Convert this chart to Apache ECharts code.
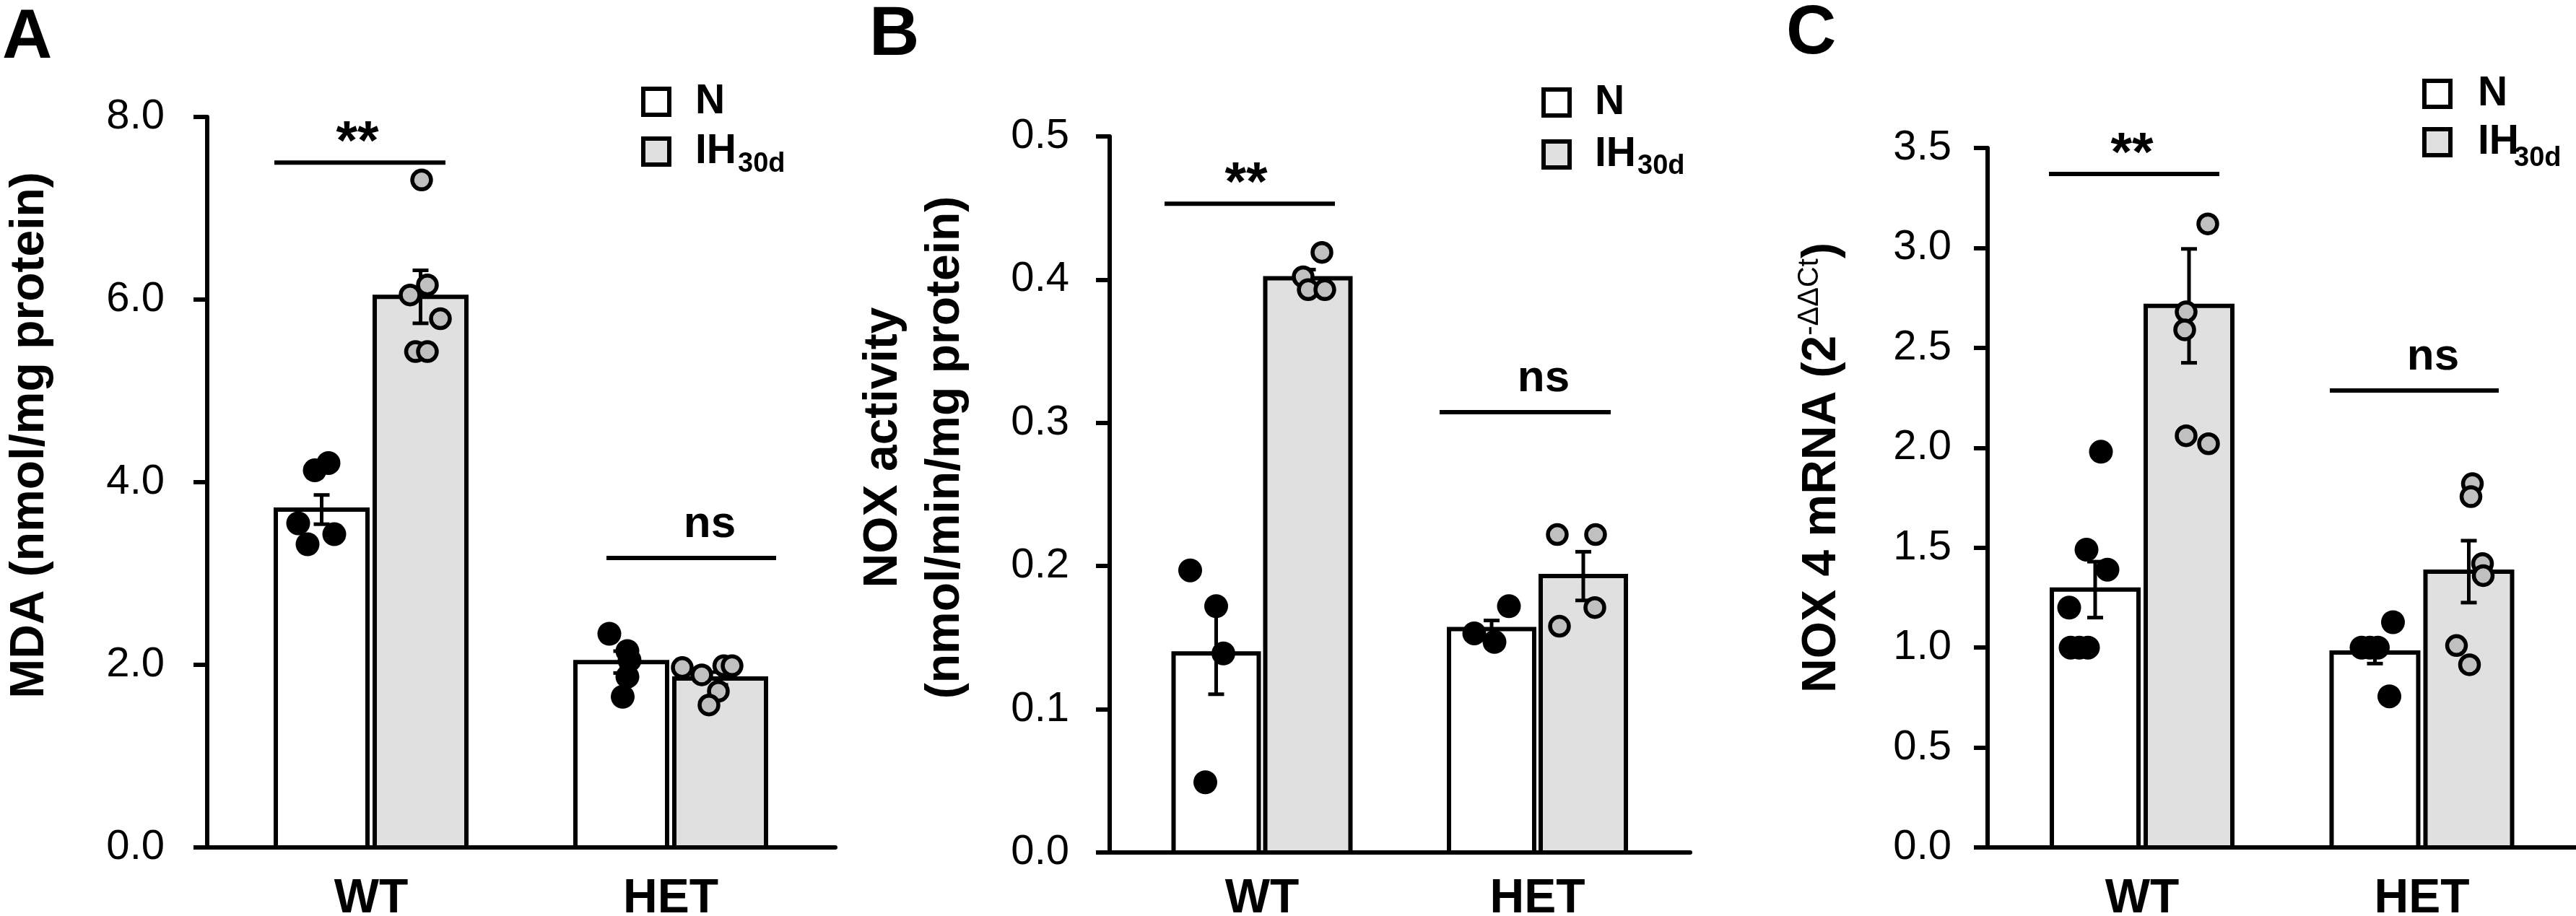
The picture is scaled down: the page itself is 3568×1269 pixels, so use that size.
<!DOCTYPE html>
<html><head><meta charset="utf-8">
<script src="https://cdn.jsdelivr.net/npm/echarts@6/dist/echarts.min.js"></script>
<style>html,body{margin:0;padding:0;background:#fff}#c{width:3568px;height:1269px}</style>
</head><body><div id="c"></div>
<script>
const FONT = '"Liberation Sans", Arial, Helvetica, sans-serif';
const categories = ['WT', 'HET'];
const treatments = ['N', 'IH30d'];

// ---- Panel A: MDA (nmol/mg protein)
const mdaTicks = [0, 2, 4, 6, 8];
const mdaMeanN = [3.70, 2.03];
const mdaSemN = [0.16, 0.12];
const mdaMeanIH = [6.03, 1.85];
const mdaSemIH = [0.29, 0.07];
const mdaPointsN = [[4.13, 4.21, 3.55, 3.43, 3.32], [2.34, 2.15, 2.05, 1.87, 1.65]];
const mdaPointsIH = [[7.31, 6.05, 6.16, 5.79, 5.43, 5.43], [1.97, 1.89, 1.99, 1.99, 1.71, 1.56]];
const mdaSigLabels = ['**', 'ns'];
const mdaSigLevels = [7.5, 3.17];

// ---- Panel B: NOX activity
const noxTicks = [0, 0.1, 0.2, 0.3, 0.4, 0.5];
const noxMeanN = [0.139, 0.156];
const noxSemN = [0.0285, 0.006];
const noxMeanIH = [0.401, 0.193];
const noxSemIH = [0.006, 0.017];
const noxPointsN = [[0.197, 0.172, 0.139, 0.049], [0.153, 0.172, 0.147]];
const noxPointsIH = [[0.419, 0.402, 0.393, 0.393], [0.222, 0.222, 0.171, 0.158]];
const noxSigLabels = ['**', 'ns'];
const noxSigLevels = [0.453, 0.3075];

// ---- Panel C: NOX 4 mRNA
const mrnaTicks = [0, 0.5, 1.0, 1.5, 2.0, 2.5, 3.0, 3.5];
const mrnaMeanN = [1.29, 0.975];
const mrnaSemN = [0.14, 0.055];
const mrnaMeanIH = [2.71, 1.38];
const mrnaSemIH = [0.285, 0.155];
const mrnaPointsN = [[1.98, 1.49, 1.39, 1.20, 1.00, 1.00, 1.00], [1.127, 1.0, 1.0, 1.0, 0.756]];
const mrnaPointsIH = [[3.12, 2.68, 2.59, 2.06, 2.02], [1.82, 1.755, 1.42, 1.36, 1.01, 0.914]];
const mrnaSigLabels = ['**', 'ns'];
const mrnaSigLevels = [3.37, 2.286];

// ---- layout (pixels)
const layouts = [
  {left: 287, top: 162, bottom: 1174, right: 1157, centers: [514, 929], off: 68.5, bw: 127,
   jitN: [[-9.5, 9.5, -32.5, 17.5, -19.5], [-16.5, 8.5, 11.5, 8.5, 2]],
   jitIH: [[1.5, -14.5, 9.5, 27.5, -7, 9.5], [-52.5, -25.5, 5, 16.5, -2.5, -15.5]],
   sigX: [[380, 617, 495], [840, 1075, 983]], ylMargin: 59, catMargin: 39,
   leg: {bx: 891, by: 123, pitch: 69, tx: 963, sx: 1022, sy: 228},
   letter: {t: 'A', x: 3, y: 6}},
  {left: 1537, top: 189, bottom: 1181, right: 2341, centers: [1748, 2129.5], off: 63.5, bw: 118,
   jitN: [[-36, 0, 10, -15], [-24, 24, 4]],
   jitIH: [[19.5, -6.5, 0.5, 23.5], [-36, 17, 16, -33]],
   sigX: [[1613, 1849, 1726], [1994, 2231, 2138]], ylMargin: 56, catMargin: 32,
   leg: {bx: 2138, by: 124, pitch: 72, tx: 2209, sx: 2268, sy: 231},
   letter: {t: 'B', x: 1204, y: 2}},
  {left: 2753, top: 205, bottom: 1174, right: 3568, centers: [2967, 3354.5], off: 65, bw: 120,
   jitN: [[8, -12, 17, -36, -34, -22, -10], [25, -18.5, -7, 4, 20]],
   jitIH: [[26, -4, -6, -4, 27], [5, 3, 19, 20, -17, 1]],
   sigX: [[2838, 3074, 2953], [3227, 3461, 3370]], ylMargin: 50, catMargin: 39,
   leg: {bx: 3358, by: 112, pitch: 67, tx: 3432, sx: 3482, sy: 220},
   letter: {t: 'C', x: 2474, y: 0}}
];

const panels = [
  {ticks: mdaTicks, meanN: mdaMeanN, semN: mdaSemN, meanIH: mdaMeanIH, semIH: mdaSemIH,
   ptsN: mdaPointsN, ptsIH: mdaPointsIH, sigL: mdaSigLabels, sigV: mdaSigLevels},
  {ticks: noxTicks, meanN: noxMeanN, semN: noxSemN, meanIH: noxMeanIH, semIH: noxSemIH,
   ptsN: noxPointsN, ptsIH: noxPointsIH, sigL: noxSigLabels, sigV: noxSigLevels},
  {ticks: mrnaTicks, meanN: mrnaMeanN, semN: mrnaSemN, meanIH: mrnaMeanIH, semIH: mrnaSemIH,
   ptsN: mrnaPointsN, ptsIH: mrnaPointsIH, sigL: mrnaSigLabels, sigV: mrnaSigLevels}
];

function barRender(bw, fill) {
  return function (params, api) {
    const x = api.value(0), v = api.value(1);
    const a = api.coord([x - bw / 2, v]);
    const b = api.coord([x + bw / 2, 0]);
    return {type: 'rect', shape: {x: a[0], y: a[1], width: b[0] - a[0], height: b[1] - a[1]},
      style: {fill: fill, stroke: '#000', lineWidth: 6}};
  };
}
function errRender(cap) {
  return function (params, api) {
    const x = api.value(0), m = api.value(1), s = api.value(2);
    const t = api.coord([x, m + s]), b = api.coord([x, m - s]);
    const st = {stroke: '#000', lineWidth: 5};
    return {type: 'group', children: [
      {type: 'line', shape: {x1: t[0], y1: t[1], x2: b[0], y2: b[1]}, style: st},
      {type: 'line', shape: {x1: t[0] - cap / 2, y1: t[1], x2: t[0] + cap / 2, y2: t[1]}, style: st},
      {type: 'line', shape: {x1: b[0] - cap / 2, y1: b[1], x2: b[0] + cap / 2, y2: b[1]}, style: st}
    ]};
  };
}
function sigRender(labels) {
  return function (params, api) {
    const x1 = api.value(0), x2 = api.value(1), lv = api.value(2), tx = api.value(3);
    const p1 = api.coord([x1, lv]), p2 = api.coord([x2, lv]), pt = api.coord([tx, lv]);
    const lab = labels[params.dataIndex];
    const star = lab.indexOf('*') >= 0;
    return {type: 'group', children: [
      {type: 'line', shape: {x1: p1[0], y1: p1[1], x2: p2[0], y2: p1[1]}, style: {stroke: '#000', lineWidth: 6}},
      {type: 'text', x: pt[0], y: p1[1] - (star ? 26 : 46),
       style: {text: lab, fontSize: star ? 76 : 62, fontWeight: 'bold', fontFamily: FONT, fill: '#000',
               align: 'center', verticalAlign: 'middle'}}
    ]};
  };
}

const grid = [], xAxis = [], yAxis = [], series = [], graphic = [];
panels.forEach(function (P, i) {
  const L = layouts[i];
  const W = L.right - L.left, H = L.bottom - L.top;
  grid.push({left: L.left, top: L.top, width: W, height: H, containLabel: false, outerBoundsMode: 'none'});
  const cvals = L.centers.map(c => c - L.left);
  xAxis.push({type: 'value', gridIndex: i, min: 0, max: W,
    axisLine: {show: true, onZero: false, lineStyle: {color: '#000', width: 6}},
    axisTick: {show: false}, splitLine: {show: false},
    axisLabel: {show: true, customValues: cvals, margin: L.catMargin, color: '#000',
      fontSize: 66, fontWeight: 'bold', fontFamily: FONT,
      formatter: function (v) {
        return Math.abs(v - cvals[0]) < Math.abs(v - cvals[1]) ? categories[0] : categories[1];
      }}});
  const t = P.ticks;
  yAxis.push({type: 'value', gridIndex: i, min: t[0], max: t[t.length - 1], interval: t[1] - t[0],
    axisLine: {show: true, lineStyle: {color: '#000', width: 6}},
    axisTick: {show: true, length: 19, lineStyle: {color: '#000', width: 6}},
    splitLine: {show: false},
    axisLabel: {margin: L.ylMargin, color: '#000', fontSize: 58, fontFamily: FONT,
      formatter: v => v.toFixed(1)}});

  const barN = [], barIH = [], errN = [], errIH = [], ptN = [], ptIH = [];
  for (let g = 0; g < 2; g++) {
    const xN = L.centers[g] - L.off - L.left, xI = L.centers[g] + L.off - L.left;
    barN.push([xN, P.meanN[g]]); barIH.push([xI, P.meanIH[g]]);
    errN.push([xN, P.meanN[g], P.semN[g]]); errIH.push([xI, P.meanIH[g], P.semIH[g]]);
    P.ptsN[g].forEach((v, j) => ptN.push([xN + L.jitN[g][j], v]));
    P.ptsIH[g].forEach((v, j) => ptIH.push([xI + L.jitIH[g][j], v]));
  }
  series.push({type: 'custom', name: treatments[0], xAxisIndex: i, yAxisIndex: i, z: 2,
    renderItem: barRender(L.bw, '#ffffff'), encode: {x: 0, y: 1}, data: barN});
  series.push({type: 'custom', name: treatments[1], xAxisIndex: i, yAxisIndex: i, z: 2,
    renderItem: barRender(L.bw, '#e0e0e0'), encode: {x: 0, y: 1}, data: barIH});
  series.push({type: 'custom', xAxisIndex: i, yAxisIndex: i, z: 4,
    renderItem: errRender(22), encode: {x: 0, y: 1}, data: errN.concat(errIH)});
  series.push({type: 'scatter', xAxisIndex: i, yAxisIndex: i, z: 5, symbol: 'circle', symbolSize: 33,
    itemStyle: {color: '#000', opacity: 1}, data: ptN});
  series.push({type: 'scatter', xAxisIndex: i, yAxisIndex: i, z: 6, symbol: 'circle', symbolSize: 26,
    itemStyle: {color: '#c0c0c0', borderColor: '#000', borderWidth: 5.5, opacity: 1}, data: ptIH});
  const sigData = P.sigV.map((lv, k) => [L.sigX[k][0] - L.left, L.sigX[k][1] - L.left, lv, L.sigX[k][2] - L.left]);
  series.push({type: 'custom', xAxisIndex: i, yAxisIndex: i, z: 6,
    renderItem: sigRender(P.sigL), encode: {x: [0, 1, 3], y: 2}, data: sigData});

  // legend
  const lg = L.leg;
  graphic.push({type: 'rect', shape: {x: lg.bx, y: lg.by, width: 36, height: 36},
    style: {fill: '#ffffff', stroke: '#000', lineWidth: 6}});
  graphic.push({type: 'rect', shape: {x: lg.bx, y: lg.by + lg.pitch, width: 36, height: 36},
    style: {fill: '#e0e0e0', stroke: '#000', lineWidth: 6}});
  graphic.push({type: 'text', x: lg.tx, y: lg.by + 18,
    style: {text: 'N', fontSize: 57, fontWeight: 'bold', fontFamily: FONT, fill: '#000', align: 'left', verticalAlign: 'middle'}});
  graphic.push({type: 'text', x: lg.tx, y: lg.by + lg.pitch + 18,
    style: {text: 'IH', fontSize: 57, fontWeight: 'bold', fontFamily: FONT, fill: '#000', align: 'left', verticalAlign: 'middle'}});
  graphic.push({type: 'text', x: lg.sx, y: lg.sy,
    style: {text: '30d', fontSize: 38, fontWeight: 'bold', fontFamily: FONT, fill: '#000', align: 'left', verticalAlign: 'middle'}});
  // panel letter
  graphic.push({type: 'text', x: L.letter.x, y: L.letter.y,
    style: {text: L.letter.t, fontSize: 96, fontWeight: 'bold', fontFamily: FONT, fill: '#000', align: 'left', verticalAlign: 'top'}});
});

// y-axis titles
graphic.push({type: 'text', x: 42, y: 603, rotation: Math.PI / 2,
  style: {text: 'MDA (nmol/mg protein)', fontSize: 66, fontWeight: 'bold', fontFamily: FONT, fill: '#000',
          align: 'center', verticalAlign: 'middle'}});
graphic.push({type: 'text', x: 1267, y: 620, rotation: Math.PI / 2,
  style: {text: 'NOX activity\n(nmol/min/mg protein)', fontSize: 66, lineHeight: 86, fontWeight: 'bold',
          fontFamily: FONT, fill: '#000', align: 'center', verticalAlign: 'middle'}});
graphic.push({type: 'text', x: 2522, y: 648, rotation: Math.PI / 2,
  style: {text: '{m|NOX 4 mRNA (2}{s|-ΔΔCt}{m|)}', fill: '#000', align: 'center', verticalAlign: 'middle',
          rich: {m: {fontSize: 66, fontWeight: 'bold', fontFamily: FONT, lineHeight: 70, verticalAlign: 'bottom'},
                 s: {fontSize: 40, fontWeight: 'normal', fontFamily: FONT, lineHeight: 70, verticalAlign: 'top'}}}});

const chart = echarts.init(document.getElementById('c'), null, {renderer: 'canvas'});
chart.setOption({animation: false, backgroundColor: '#ffffff', grid: grid, xAxis: xAxis, yAxis: yAxis,
  series: series, graphic: graphic});
</script></body></html>
